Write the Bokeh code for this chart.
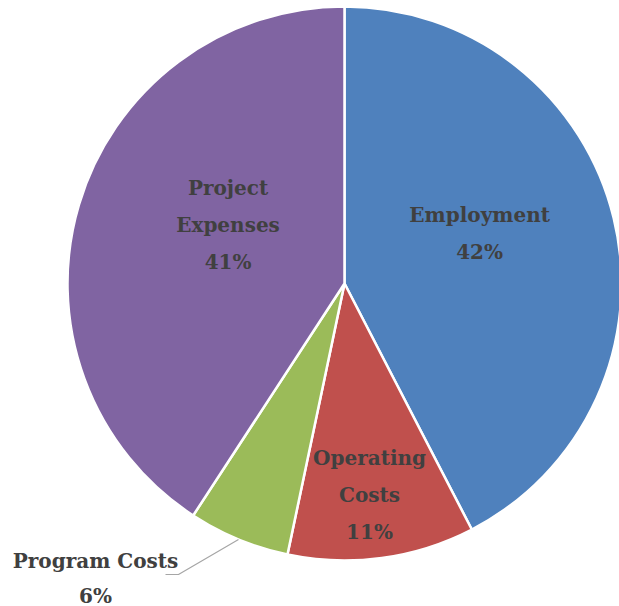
import numpy as np
from bokeh.plotting import figure
from bokeh.models import Range1d
from bokeh.core.properties import value
from bokeh.embed import file_html
from bokeh.resources import INLINE

categories = ["Employment", "Operating Costs", "Program Costs", "Project Expenses"]
shares = [42.4, 10.9, 5.9, 40.8]
pct_labels = ["42%", "11%", "6%", "41%"]
label_lines = ["Employment", "Operating\nCosts", "Program Costs", "Project\nExpenses"]
colors = ["#4F81BD", "#C0504D", "#9BBB59", "#8064A2"]

W, H = 619, 606
# data coordinates: x = page px, y = 606 - page py
cx, cy, R = 344.0, 606 - 283.0, 277.0

p = figure(width=W, height=H, output_backend="svg", toolbar_location=None,
           x_range=Range1d(0, W), y_range=Range1d(0, H),
           x_axis_type=None, y_axis_type=None, min_border=0)
p.outline_line_color = None
p.grid.visible = False
p.background_fill_color = "white"

frac = np.array(shares) / sum(shares)
cum = np.cumsum(frac)
prev = np.concatenate([[0], cum[:-1]])
start = np.pi / 2 - 2 * np.pi * cum
end = np.pi / 2 - 2 * np.pi * prev
p.wedge(x=cx, y=cy, radius=R, start_angle=start, end_angle=end,
        fill_color=colors, line_color="white", line_width=2.5)

mid = (prev + cum) / 2 * 2 * np.pi  # clockwise from top
font = value("DejaVu Serif")
tcol = "#404040"
fs = "20px"

# inside labels: radial fraction and angular tweak (deg)
inside = {0: (0.52, -6.6), 1: (0.77, 1.0), 3: (0.47, 10.0)}
for i, (rf, dang) in inside.items():
    a = mid[i] + np.radians(dang)
    lx = cx + R * rf * np.sin(a)
    ly = cy + R * rf * np.cos(a)
    lines = label_lines[i].split("\n") + [pct_labels[i]]
    n = len(lines)
    for k, t in enumerate(lines):
        yy = ly + (n - 1) / 2 * 37 - k * 37
        p.text(x=[lx], y=[yy], text=[t], text_font=font, text_font_style="bold",
               text_font_size=fs, text_color=tcol, text_align="center",
               text_baseline="middle")

# outside label for Program Costs with leader
i = 2
a = mid[i]
ex = cx + R * np.sin(a)
ey = cy + R * np.cos(a)
kx, ky = 178, 606 - 574
p.line(x=[ex, kx, kx - 13], y=[ey, ky, ky], line_color="#A6A6A6", line_width=1.2)
p.text(x=[95], y=[606 - 560], text=[label_lines[i]], text_font=font, text_font_style="bold",
       text_font_size=fs, text_color=tcol, text_align="center", text_baseline="middle")
p.text(x=[95], y=[606 - 595], text=[pct_labels[i]], text_font=font, text_font_style="bold",
       text_font_size=fs, text_color=tcol, text_align="center", text_baseline="middle")

open("out.html", "w").write(file_html(p, INLINE))
